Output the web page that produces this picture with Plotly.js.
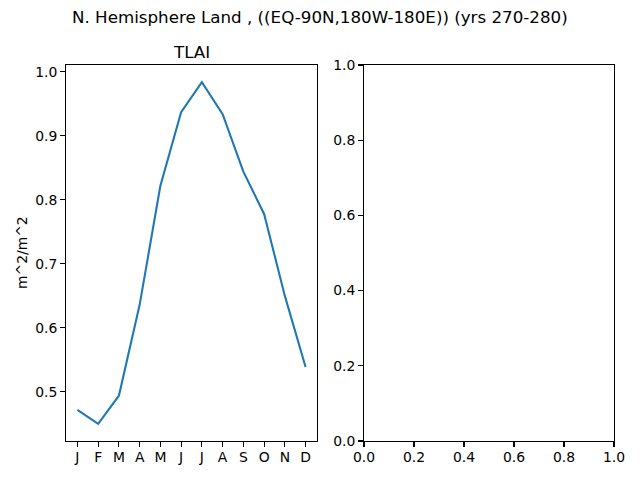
<!DOCTYPE html>
<html>
<head>
<meta charset="utf-8">
<script src="https://cdn.plot.ly/plotly-3.0.1.min.js"></script>
<style>html,body{margin:0;padding:0;background:#fff}#plot{width:640px;height:480px}</style>
</head>
<body>
<div id="plot"></div>
<script>
const months = ["J","F","M","A","M","J","J","A","S","O","N","D"];
const tlai = [0.472, 0.450, 0.494, 0.636, 0.822, 0.937, 0.984, 0.934, 0.844, 0.778, 0.650, 0.539];
const rightTicks = [0, 0.2, 0.4, 0.6, 0.8, 1.0];
const rightTickText = ["0.0", "0.2", "0.4", "0.6", "0.8", "1.0"];
const leftYTicks = [0.5, 0.6, 0.7, 0.8, 0.9, 1.0];
const leftYTickText = ["0.5", "0.6", "0.7", "0.8", "0.9", "1.0"];
const suptitle = "N. Hemisphere Land , ((EQ-90N,180W-180E)) (yrs 270-280)";
const panelTitle = "TLAI";
const yLabel = "m^2/m^2";

const idx = months.map((m, i) => i);
const font = {family: "DejaVu Sans", size: 13.9, color: "#000"};
const axCommon = {
  showline: true, mirror: true, linecolor: "#000", linewidth: 1.1,
  ticks: "outside", ticklen: 4.9, tickwidth: 1.1, tickcolor: "#000",
  showgrid: false, zeroline: false, tickfont: font, fixedrange: true
};

const ymin = Math.min(...tlai), ymax = Math.max(...tlai);
const ypad = (ymax - ymin) * 0.05;

const data = [
  {x: idx, y: tlai, type: "scatter", mode: "lines",
   line: {color: "#1f77b4", width: 2.08}, xaxis: "x", yaxis: "y", hoverinfo: "none"},
  {x: [], y: [], type: "scatter", mode: "lines", xaxis: "x2", yaxis: "y2", showlegend: false}
];

const layout = {
  width: 640, height: 480,
  margin: {l: 0, r: 0, t: 0, b: 0},
  paper_bgcolor: "#fff", plot_bgcolor: "#fff",
  showlegend: false,
  font: font,
  xaxis: Object.assign({}, axCommon, {
    domain: [66/640, 317/640], range: [-0.55, 11.55],
    tickvals: idx, ticktext: months, anchor: "y", ticklabelstandoff: -2
  }),
  yaxis: Object.assign({}, axCommon, {
    domain: [1 - 441/480, 1 - 65/480], range: [ymin - ypad, ymax + ypad],
    tickvals: leftYTicks, ticktext: leftYTickText, anchor: "x"
  }),
  xaxis2: Object.assign({}, axCommon, {
    domain: [364/640, 614/640], range: [0, 1],
    tickvals: rightTicks, ticktext: rightTickText, anchor: "y2", ticklabelstandoff: -2
  }),
  yaxis2: Object.assign({}, axCommon, {
    domain: [1 - 441/480, 1 - 65/480], range: [0, 1],
    tickvals: rightTicks, ticktext: rightTickText, anchor: "x2"
  }),
  annotations: [
    {text: suptitle, xref: "paper", yref: "paper", x: 0.5, y: 1 - 17/480,
     xanchor: "center", yanchor: "middle", showarrow: false,
     font: {family: "DejaVu Sans", size: 16.7, color: "#000"}},
    {text: panelTitle, xref: "paper", yref: "paper", x: (66 + 317) / 2 / 640, y: 1 - 52/480,
     xanchor: "center", yanchor: "middle", showarrow: false,
     font: {family: "DejaVu Sans", size: 16.7, color: "#000"}},
    {text: yLabel, xref: "paper", yref: "paper", x: 22/640, y: 1 - 253/480,
     xanchor: "center", yanchor: "middle", showarrow: false, textangle: -90,
     font: {family: "DejaVu Sans", size: 13.9, color: "#000"}}
  ]
};

Plotly.newPlot("plot", data, layout, {staticPlot: true, displayModeBar: false});
</script>
</body>
</html>
